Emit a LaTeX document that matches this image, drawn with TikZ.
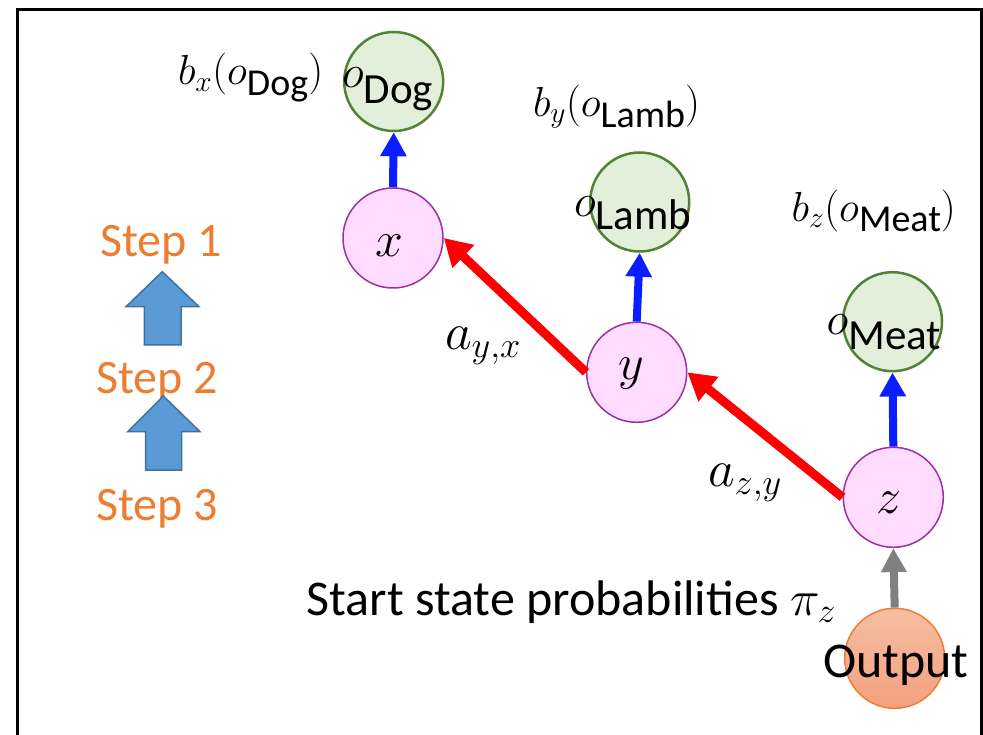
\RequirePackage{fix-cm}
\documentclass[tikz,border=0pt]{standalone}
\usepackage{fontspec}
\setmainfont{Carlito}
\usetikzlibrary{arrows.meta}
\definecolor{pinkfill}{HTML}{FFDBFF}
\definecolor{pinkline}{HTML}{9B30A0}
\definecolor{greenfill}{HTML}{E2EFDA}
\definecolor{greenline}{HTML}{548235}
\definecolor{orangeline}{HTML}{ED7D31}
\definecolor{outtop}{HTML}{F6BEA2}
\definecolor{outbot}{HTML}{F3A17F}
\definecolor{steptext}{HTML}{ED7D31}
\definecolor{blockfill}{HTML}{5B9BD5}
\definecolor{blockline}{HTML}{41719C}
\definecolor{arrowblue}{HTML}{0A1EFF}
\tikzset{
  state/.style={circle, minimum size=100pt, inner sep=0pt, fill=pinkfill, draw=pinkline, line width=1.5pt},
  obs/.style={circle, minimum size=99pt, inner sep=0pt, fill=greenfill, draw=greenline, line width=2.5pt},
  outnode/.style={circle, minimum size=100pt, inner sep=0pt, top color=outtop, bottom color=outbot, draw=orangeline, line width=1.5pt},
  emit/.style={draw=arrowblue, line width=8pt, -{Triangle[length=24pt,width=25pt]}, shorten >=0pt},
  trans/.style={draw=red, line width=9pt, -{Triangle[length=27pt,width=30pt]}},
  startarr/.style={draw=gray, line width=8pt, -{Triangle[length=24pt,width=24pt]}},
  txt/.style={anchor=base west, inner sep=0pt, outer sep=0pt},
  steplabel/.style={txt, text=steptext, font=\fontsize{48}{56}\selectfont},
  block/.style={fill=blockfill, draw=blockline, line width=1.5pt, line join=miter},
}
\begin{document}
\begin{tikzpicture}[x=1pt, y=-1pt]
\useasboundingbox (0,0) rectangle (983,735);
% frame
\draw[line width=3pt] (17,735) -- (17,10) -- (981,10) -- (981,735);

% circles
\node[obs] (odog) at (393.7,81.5) {};
\node[state] (x) at (393,238) {};
\node[obs] (olamb) at (639.7,202) {};
\node[state] (y) at (636.7,372.3) {};
\node[obs] (omeat) at (892.5,321.7) {};
\node[state] (z) at (893.3,497.3) {};
\node[outnode] (out) at (894.7,658.3) {};

% connectors
\draw[emit] (x.north) -- (odog.south);
\draw[emit] (y.north) -- (olamb.south);
\draw[emit] (z.north) -- (omeat.south);
\draw[startarr] (out.north) -- (z.south);
\draw[trans] (y.west) -- (x.east);
\draw[trans] (z.west) -- (y.east);

% state letters
\node[txt] (xl) at (375,257) {\fontsize{50}{56}\selectfont$x$};
\node[txt] (yl) at (618,380) {\fontsize{50}{56}\selectfont$y$};
\node[txt] (zl) at (876,513) {\fontsize{50}{56}\selectfont$z$};

% observation labels in circles
\node[txt] (odogl) at (342,88) {\fontsize{46}{50}\selectfont$o$\raisebox{-16pt}{\fontsize{43}{46}\selectfont Dog}};
\node[txt] (olambl) at (574,216.7) {\fontsize{46}{50}\selectfont$o$\raisebox{-12.5pt}{\fontsize{43}{46}\selectfont Lamb}};
\node[txt] (omeatl) at (826.7,335) {\fontsize{46}{50}\selectfont$o$\raisebox{-14.3pt}{\fontsize{43}{46}\selectfont Meat}};

% emission probability labels
\node[txt] (bx) at (178,85) {\fontsize{42}{48}\selectfont$b_x(o$\raisebox{-11pt}{\fontsize{38}{42}\selectfont Dog}$)$};
\node[txt] (by) at (533,116.7) {\fontsize{42}{48}\selectfont$b_y(o$\raisebox{-11pt}{\fontsize{38}{42}\selectfont Lamb}$)$};
\node[txt] (bz) at (791.7,221.7) {\fontsize{42}{48}\selectfont$b_z(o$\raisebox{-9.5pt}{\fontsize{38}{42}\selectfont Meat}$)$};

% transition labels
\node[txt] (ayx) at (445,350) {\fontsize{52}{58}\selectfont$a_{y,x}$};
\node[txt] (azy) at (708,486.7) {\fontsize{52}{58}\selectfont$a_{z,y}$};

% start label
\node[txt] (start) at (306.7,615) {\fontsize{50}{56}\selectfont Start state probabilities $\pi_z$};
\node[txt] (outl) at (823,677.3) {\fontsize{50}{56}\selectfont Output};

% steps
\node[steplabel] (s1) at (100,256.7) {Step 1};
\node[steplabel] (s2) at (96,393.3) {Step 2};
\node[steplabel] (s3) at (96,520.7) {Step 3};

% block arrows
\draw[block] (162.3,271.7) -- (199,306.7) -- (181,306.7) -- (181,345) -- (144.3,345) -- (144.3,306.7) -- (126,306.7) -- cycle;
\draw[block] (163.3,396) -- (200,431.7) -- (181.7,431.7) -- (181.7,470) -- (145.7,470) -- (145.7,431.7) -- (127.7,431.7) -- cycle;
\end{tikzpicture}
\end{document}
